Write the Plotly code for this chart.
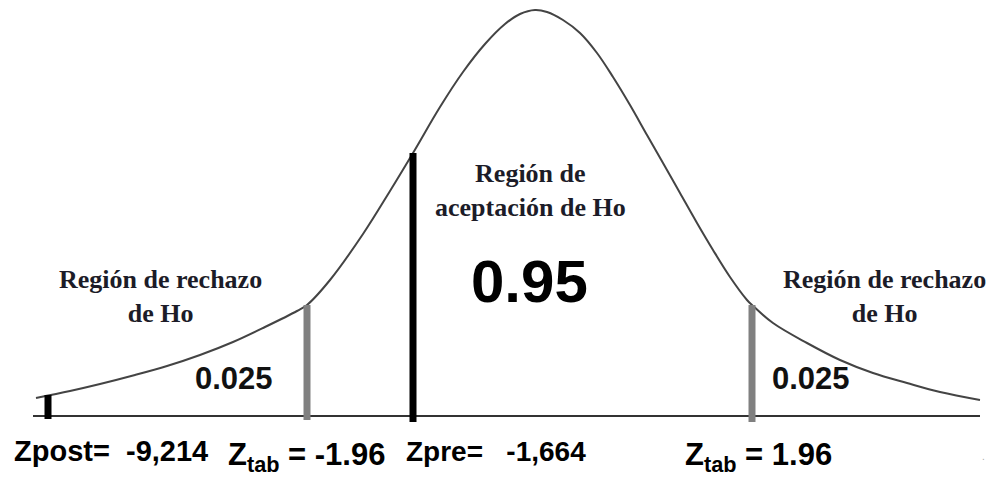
import plotly.graph_objects as go

# Bell curve (horizontal position, height above baseline)
curve_x = [36, 70, 100, 135, 167, 200, 233, 265, 297, 307, 330, 363, 390, 413, 440, 463, 485, 505,
           520, 535, 547, 563, 580, 597, 613, 630, 647, 663, 680, 697, 713, 730, 747, 752, 773,
           807, 840, 873, 907, 940, 980]
curve_y = [18, 25, 32, 41, 50, 61, 74, 89, 105, 111, 136, 182, 225, 263, 309, 344, 372, 392,
           402, 406, 404, 396, 383, 363, 339, 311, 281, 253, 223, 193, 166, 139, 116, 111, 93,
           73, 56, 43, 33, 24, 16]

baseline_x = [33, 980]
baseline_y = [0, 0]

# Vertical markers: position, top height, colour
marker_x = [48, 307, 413, 752]
marker_top = [21, 111, 263, 111]
marker_bottom = [-3, -4, -6, -6]
marker_color = ["#000000", "#808080", "#000000", "#808080"]

# Labels
region_left = "<b>Región de rechazo<br>de Ho</b>"
region_center = "<b>Región de<br>aceptación de Ho</b>"
region_right = "<b>Región de rechazo<br>de Ho</b>"
p_tail = "0.025"
p_center = "0.95"
label_post = "Zpost=\u00a0\u00a0-9,214"
label_tab_left = "Z<sub>tab</sub> = -1.96"
label_pre = "Zpre=\u00a0\u00a0\u00a0-1,664"
label_tab_right = "Z<sub>tab</sub> = 1.96"

fig = go.Figure()

fig.add_trace(go.Scatter(x=baseline_x, y=baseline_y, mode="lines",
                         line=dict(color="#333333", width=2), hoverinfo="skip"))
fig.add_trace(go.Scatter(x=curve_x, y=curve_y, mode="lines", line_shape="spline",
                         line=dict(color="#444444", width=2), hoverinfo="skip"))
for mx, mt, mb, mc in zip(marker_x, marker_top, marker_bottom, marker_color):
    fig.add_trace(go.Scatter(x=[mx, mx], y=[mb, mt], mode="lines",
                             line=dict(color=mc, width=7), hoverinfo="skip"))

serif = dict(family="Liberation Serif, Times New Roman, serif", size=26, color="#1c1c28")
sans_b = "Liberation Sans, Arial, sans-serif"

ann = [
    dict(x=160, y=120, text=region_left, font=serif, xanchor="center", yanchor="middle"),
    dict(x=884, y=120, text=region_right, font=serif, xanchor="center", yanchor="middle"),
    dict(x=530, y=226, text=region_center, font=serif, xanchor="center", yanchor="middle"),
    dict(x=234, y=38, text="<b>" + p_tail + "</b>", font=dict(family=sans_b, size=31, color="#111"),
         xanchor="center", yanchor="middle"),
    dict(x=811, y=38, text="<b>" + p_tail + "</b>", font=dict(family=sans_b, size=31, color="#111"),
         xanchor="center", yanchor="middle"),
    dict(x=529, y=135, text="<b>" + p_center + "</b>", font=dict(family=sans_b, size=60, color="#000"),
         xanchor="center", yanchor="middle"),
    dict(x=12, y=-35, text="<b>" + label_post + "</b>", font=dict(family=sans_b, size=29, color="#000"),
         xanchor="left", yanchor="middle"),
    dict(x=226, y=-41, text="<b>" + label_tab_left + "</b>", font=dict(family=sans_b, size=31, color="#000"),
         xanchor="left", yanchor="middle"),
    dict(x=404, y=-35, text="<b>" + label_pre + "</b>", font=dict(family=sans_b, size=28, color="#000"),
         xanchor="left", yanchor="middle"),
    dict(x=683, y=-41, text="<b>" + label_tab_right + "</b>", font=dict(family=sans_b, size=31, color="#000"),
         xanchor="left", yanchor="middle"),
    dict(x=983, y=-40, text=".", font=dict(family=sans_b, size=10, color="#aaa"),
         xanchor="center", yanchor="middle"),
]
for a in ann:
    a.update(xref="x", yref="y", showarrow=False)

fig.update_layout(
    width=995, height=477,
    margin=dict(l=0, r=0, t=0, b=0),
    paper_bgcolor="white", plot_bgcolor="white",
    showlegend=False,
    xaxis=dict(range=[0, 995], visible=False, fixedrange=True),
    yaxis=dict(range=[-61, 416], visible=False, fixedrange=True),
    annotations=ann,
)

fig.write_html("out.html", config={"displayModeBar": False},
               post_script="document.body.style.margin='0';")
